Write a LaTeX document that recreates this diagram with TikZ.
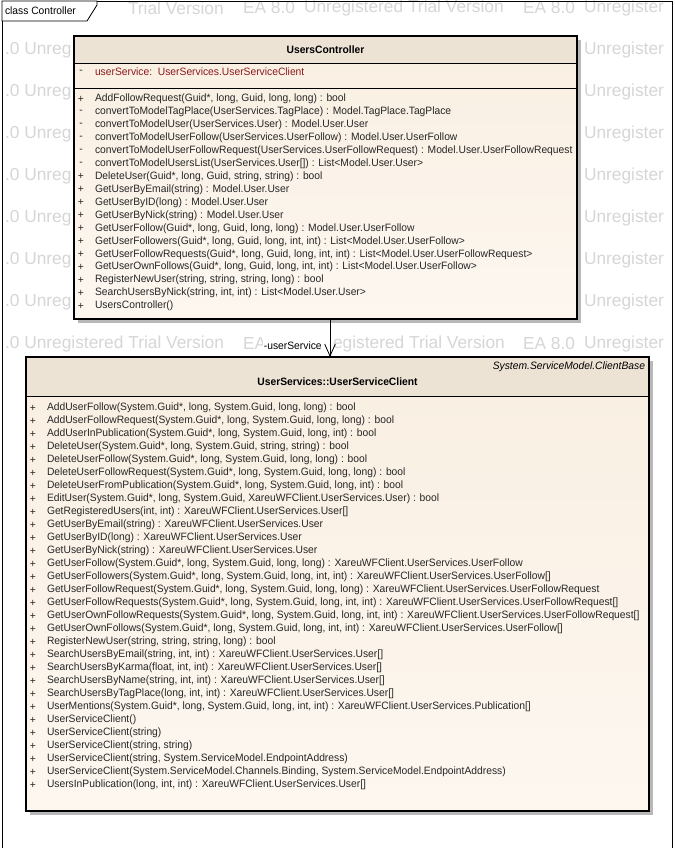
\documentclass[tikz,border=0pt]{standalone}
\usepackage{fontspec}
\setmainfont{Liberation Sans}
\newfontfamily\umlfont{Liberation Sans}[FakeStretch=0.965]
\usetikzlibrary{arrows.meta,fit}
\definecolor{hdr}{HTML}{EDE3D5}
\definecolor{bodytop}{HTML}{F9EFE2}
\definecolor{bodybot}{HTML}{FDF7F0}
\definecolor{attrc}{HTML}{8B1A1A}
\definecolor{wmc}{HTML}{D6D6D6}
\definecolor{txtc}{HTML}{262626}
\definecolor{shadowc}{HTML}{B8B8B8}
\begin{document}
\begin{tikzpicture}[x=0.75pt,y=-0.75pt,
  every node/.style={inner sep=0pt,outer sep=0pt},
  wmtext/.style={text=wmc,font=\fontsize{13}{15}\selectfont,anchor=west},
  member/.style={anchor=west,font=\umlfont\fontsize{8}{9.6}\selectfont,text=txtc},
  marker/.style={anchor=center,font=\umlfont\fontsize{8}{9.6}\selectfont,text=txtc},
  attrtext/.style={member,text=attrc},
  titletext/.style={font=\umlfont\bfseries\fontsize{8}{9.6}\selectfont,text=black},
  sep/.style={draw=black,line width=0.6pt},
  border/.style={draw=black,line width=0.8pt}]
\useasboundingbox (0,0) rectangle (674,848);
\fill[white] (0,0) rectangle (674,848);

% watermark (visible parts only)
\node[wmtext] (wt0a) at (128,8) {Trial Version};
\node[wmtext] (wt0b) at (243,8) {EA 8.0};
\node[wmtext] (wt0c) at (304,8) {Unregistered Trial Version};
\node[wmtext] (wt0d) at (523,8) {EA 8.0};
\node[wmtext] (wt0e) at (584,8) {Unregister};
\foreach \r in {1,...,7}{
  \node[wmtext] (wl\r) at (5,8+42*\r) {.0 Unreg};
  \node[wmtext] (wr\r) at (584,8+42*\r) {Unregister};
}
\node[wmtext] (wm8a) at (5,344) {.0 Unregistered Trial Version};
\node[wmtext] (wm8b) at (243,344) {EA};
\node[wmtext] (wm8c) at (333,344) {egistered Trial Version};
\node[wmtext] (wm8d) at (523,344) {EA 8.0};
\node[wmtext] (wm8e) at (584,344) {Unregister};

% frame
\draw[line width=0.6pt] (2,1) rectangle (672,852);
\draw[line width=0.6pt,fill=white] (2,1) -- (97,1) -- (97,5) -- (87,21) -- (2,21) -- cycle;
\node[anchor=west,font=\umlfont\fontsize{8}{9.6}\selectfont] (frametitle) at (5,11) {class Controller};

% ---------- UsersController ----------
\fill[shadowc] (78,40) rectangle (581,323);
\shade[top color=bodytop,bottom color=bodybot] (74,36) rectangle (577,319);
\fill[hdr] (74,36) rectangle (577,63);
\draw[sep] (74,63) -- (577,63);
\draw[sep] (74,88) -- (577,88);
\node[fit={(74,36) (577,319)},border] (uc) {};
\node[titletext] (uctitle) at (325.5,50) {UsersController};
\node[marker] (ucam) at (81,72) {-};
\node[attrtext] (uca) at (95,72) {userService:\ \ UserServices.UserServiceClient};
\foreach [count=\i from 0] \m/\t in {
 {+}/{AddFollowRequest(Guid*, long, Guid, long, long) : bool},
 {-}/{convertToModelTagPlace(UserServices.TagPlace) : Model.TagPlace.TagPlace},
 {-}/{convertToModelUser(UserServices.User) : Model.User.User},
 {-}/{convertToModelUserFollow(UserServices.UserFollow) : Model.User.UserFollow},
 {-}/{convertToModelUserFollowRequest(UserServices.UserFollowRequest) : Model.User.UserFollowRequest},
 {-}/{convertToModelUsersList(UserServices.User[]) : List<Model.User.User>},
 {+}/{DeleteUser(Guid*, long, Guid, string, string) : bool},
 {+}/{GetUserByEmail(string) : Model.User.User},
 {+}/{GetUserByID(long) : Model.User.User},
 {+}/{GetUserByNick(string) : Model.User.User},
 {+}/{GetUserFollow(Guid*, long, Guid, long, long) : Model.User.UserFollow},
 {+}/{GetUserFollowers(Guid*, long, Guid, long, int, int) : List<Model.User.UserFollow>},
 {+}/{GetUserFollowRequests(Guid*, long, Guid, long, int, int) : List<Model.User.UserFollowRequest>},
 {+}/{GetUserOwnFollows(Guid*, long, Guid, long, int, int) : List<Model.User.UserFollow>},
 {+}/{RegisterNewUser(string, string, string, long) : bool},
 {+}/{SearchUsersByNick(string, int, int) : List<Model.User.User>},
 {+}/{UsersController()}}{
  \node[marker] (ucmm\i) at (81,99+12.94*\i) {\m};
  \node[member] (ucm\i) at (95,99+12.94*\i) {\t};
}

% ---------- UserServiceClient ----------
\fill[shadowc] (30,361) rectangle (653,815);
\shade[top color=bodytop,bottom color=bodybot] (26,357) rectangle (649,811);
\fill[hdr] (26,357) rectangle (649,396);
\draw[sep] (26,396) -- (649,396);
\node[fit={(26,357) (649,811)},border] (usc) {};
\node[anchor=east,font=\umlfont\itshape\fontsize{8}{9.6}\selectfont] (uscst) at (645,367) {System.ServiceModel.ClientBase};
\node[titletext] (usctitle) at (337.5,382) {UserServices::UserServiceClient};
\foreach [count=\i from 0] \t in {
 {AddUserFollow(System.Guid*, long, System.Guid, long, long) : bool},
 {AddUserFollowRequest(System.Guid*, long, System.Guid, long, long) : bool},
 {AddUserInPublication(System.Guid*, long, System.Guid, long, int) : bool},
 {DeleteUser(System.Guid*, long, System.Guid, string, string) : bool},
 {DeleteUserFollow(System.Guid*, long, System.Guid, long, long) : bool},
 {DeleteUserFollowRequest(System.Guid*, long, System.Guid, long, long) : bool},
 {DeleteUserFromPublication(System.Guid*, long, System.Guid, long, int) : bool},
 {EditUser(System.Guid*, long, System.Guid, XareuWFClient.UserServices.User) : bool},
 {GetRegisteredUsers(int, int) : XareuWFClient.UserServices.User[]},
 {GetUserByEmail(string) : XareuWFClient.UserServices.User},
 {GetUserByID(long) : XareuWFClient.UserServices.User},
 {GetUserByNick(string) : XareuWFClient.UserServices.User},
 {GetUserFollow(System.Guid*, long, System.Guid, long, long) : XareuWFClient.UserServices.UserFollow},
 {GetUserFollowers(System.Guid*, long, System.Guid, long, int, int) : XareuWFClient.UserServices.UserFollow[]},
 {GetUserFollowRequest(System.Guid*, long, System.Guid, long, long) : XareuWFClient.UserServices.UserFollowRequest},
 {GetUserFollowRequests(System.Guid*, long, System.Guid, long, int, int) : XareuWFClient.UserServices.UserFollowRequest[]},
 {GetUserOwnFollowRequests(System.Guid*, long, System.Guid, long, int, int) : XareuWFClient.UserServices.UserFollowRequest[]},
 {GetUserOwnFollows(System.Guid*, long, System.Guid, long, int, int) : XareuWFClient.UserServices.UserFollow[]},
 {RegisterNewUser(string, string, string, long) : bool},
 {SearchUsersByEmail(string, int, int) : XareuWFClient.UserServices.User[]},
 {SearchUsersByKarma(float, int, int) : XareuWFClient.UserServices.User[]},
 {SearchUsersByName(string, int, int) : XareuWFClient.UserServices.User[]},
 {SearchUsersByTagPlace(long, int, int) : XareuWFClient.UserServices.User[]},
 {UserMentions(System.Guid*, long, System.Guid, long, int, int) : XareuWFClient.UserServices.Publication[]},
 {UserServiceClient()},
 {UserServiceClient(string)},
 {UserServiceClient(string, string)},
 {UserServiceClient(string, System.ServiceModel.EndpointAddress)},
 {UserServiceClient(System.ServiceModel.Channels.Binding, System.ServiceModel.EndpointAddress)},
 {UsersInPublication(long, int, int) : XareuWFClient.UserServices.User[]}}{
  \node[marker] (uscmm\i) at (33,408+13*\i) {+};
  \node[member] (uscm\i) at (47,408+13*\i) {\t};
}

% ---------- association ----------
\coordinate (ax) at (330,0);
\node[anchor=east,fill=white,inner sep=1pt,font=\umlfont\fontsize{8}{9.6}\selectfont] (lbl) at (323,346) {-userService};
\draw[line width=0.6pt,-{Straight Barb[length=9pt,width=8pt]}] (uc.south -| ax) -- (usc.north -| ax);
\end{tikzpicture}
\end{document}
